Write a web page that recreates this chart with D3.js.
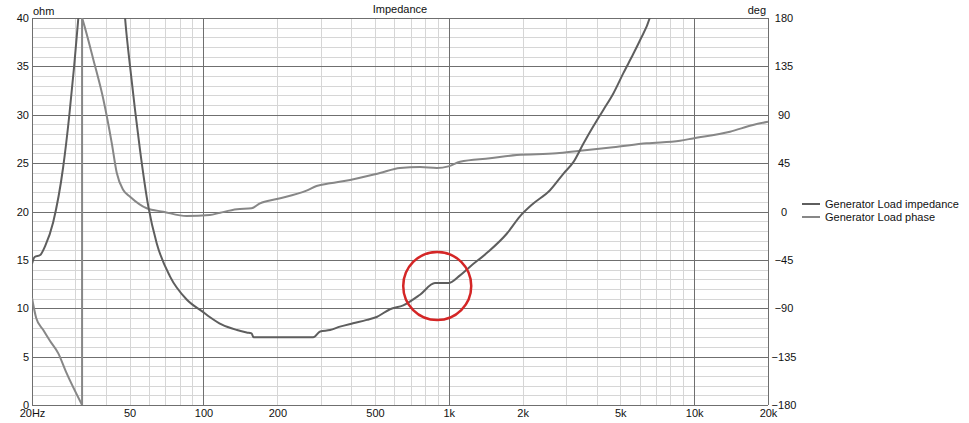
<!DOCTYPE html>
<html>
<head>
<meta charset="utf-8">
<script src="https://cdn.jsdelivr.net/npm/d3@7/dist/d3.min.js"></script>
<style>
    body { margin: 0; background: #fff; }
    svg { display: block; font-family: "Liberation Sans", Arial, sans-serif; }
</style>
</head>
<body>
<svg id="chart" width="969" height="423"></svg>
<script>
// impedance curve, [Hz, ohm]
var impedanceData = [
    [20, 14.6], [20.5, 15.3], [21.6, 15.5], [22.6, 16.4], [24.4, 18.9], [26.8, 24.6],
    [28.4, 30], [29.7, 35], [30.9, 40], [34.5, 58], [37.9, 70], [43.6, 58],
    [47.9, 40], [50.2, 35], [52.6, 30.5], [55.1, 26.4], [59.6, 20.5], [64.5, 16.7],
    [73, 13.3], [85.4, 10.9], [99.8, 9.6], [106, 9.1], [119, 8.3], [137, 7.75],
    [150, 7.5], [157, 7.4], [160, 7.0], [280, 7.0], [299, 7.6], [328, 7.75],
    [360, 8.1], [407, 8.45], [463, 8.8], [508, 9.1], [576, 9.9], [652, 10.3],
    [763, 11.4], [878, 12.6], [996, 12.6], [1111, 13.4], [1220, 14.3], [1427, 15.7],
    [1722, 17.7], [1950, 19.5], [2204, 20.8], [2585, 22.2], [2929, 23.9], [3218, 25.1],
    [3534, 27.0], [3882, 28.8], [4264, 30.5], [4684, 32.2], [5145, 34.3], [5651, 36.3],
    [6017, 37.7], [6609, 40.1], [7258, 45]
];

// phase curve, [Hz, deg]; the jump at 32 Hz is the -180/+180 wrap
var phaseData = [
    [20, -80.5], [20.8, -99], [22.2, -110], [23.7, -120.5], [25.6, -132], [27.5, -149],
    [32.0, -180], [32.0, 180], [32.2, 178], [35.6, 141], [39.1, 104], [42.3, 63.4],
    [44.3, 36], [47.1, 20], [50.2, 13.8], [58.7, 3], [68.6, -0.2], [85.4, -4.2],
    [106, -3.3], [117, -1.1], [137, 2], [157, 3], [170, 7.6], [199, 11.6],
    [263, 19.4], [289, 23.7], [328, 26.2], [396, 29.3], [524, 35.8], [632, 40.5],
    [763, 41.4], [895, 40.5], [996, 42], [1111, 46.3], [1472, 49.5], [1892, 52.6],
    [2752, 54.1], [3426, 56.6], [4672, 59.7], [6406, 63.4], [8756, 65.9], [9894, 68],
    [14000, 74.2], [17372, 80.5], [20000, 83.5]
];

var freqTicks = [20, 50, 100, 200, 500, 1000, 2000, 5000, 10000, 20000];
var freqLabels = ["20Hz", "50", "100", "200", "500", "1k", "2k", "5k", "10k", "20k"];
var freqMajor = [100, 1000, 10000];
var ohmTicks = [0, 5, 10, 15, 20, 25, 30, 35, 40];
var degTicks = [-180, -135, -90, -45, 0, 45, 90, 135, 180];
var seriesNames = ["Generator Load impedance", "Generator Load phase"];
var seriesColors = ["#5e5e5e", "#878787"];
// red circle marking the flat step
var highlight = [897, 12.3];

var plotLeft = 32, plotRight = 768, plotTop = 18, plotBottom = 405;

var chart = d3.select("#chart");

var x = d3.scaleLog().domain([20, 20000]).range([plotLeft, plotRight]);
var yOhm = d3.scaleLinear().domain([0, 40]).range([plotBottom, plotTop]);
var yDeg = d3.scaleLinear().domain([-180, 180]).range([plotBottom, plotTop]);

// minor grid values
var minorFreq = [];
[10, 100, 1000, 10000].forEach(function(decade) {
    for (var k = 1; k <= 9; k++) {
        var f = decade * k;
        if (f > 20 && f < 20000 && freqMajor.indexOf(f) < 0) minorFreq.push(f);
    }
});
var minorOhm = d3.range(1, 40).filter(function(v) { return v % 5 !== 0; });

var grid = chart.append("g");

grid.selectAll("line.minor-x")
    .data(minorFreq)
    .enter()
    .append("line")
    .attr("class", "minor-x")
    .attr("x1", function(d) { return Math.round(x(d)) + 0.5; })
    .attr("x2", function(d) { return Math.round(x(d)) + 0.5; })
    .attr("y1", plotTop)
    .attr("y2", plotBottom)
    .attr("stroke", "#d6d6d6");

grid.selectAll("line.minor-y")
    .data(minorOhm)
    .enter()
    .append("line")
    .attr("class", "minor-y")
    .attr("x1", plotLeft)
    .attr("x2", plotRight)
    .attr("y1", function(d) { return Math.round(yOhm(d)) + 0.5; })
    .attr("y2", function(d) { return Math.round(yOhm(d)) + 0.5; })
    .attr("stroke", "#d6d6d6");

grid.selectAll("line.major-x")
    .data(freqMajor.concat([20, 20000]))
    .enter()
    .append("line")
    .attr("class", "major-x")
    .attr("x1", function(d) { return Math.round(x(d)) + 0.5; })
    .attr("x2", function(d) { return Math.round(x(d)) + 0.5; })
    .attr("y1", plotTop)
    .attr("y2", plotBottom)
    .attr("stroke", "#6f6f6f");

grid.selectAll("line.major-y")
    .data(ohmTicks)
    .enter()
    .append("line")
    .attr("class", "major-y")
    .attr("x1", plotLeft)
    .attr("x2", plotRight)
    .attr("y1", function(d) { return Math.round(yOhm(d)) + 0.5; })
    .attr("y2", function(d) { return Math.round(yOhm(d)) + 0.5; })
    .attr("stroke", "#6f6f6f");

// axes, labels only
function styleAxis(g) {
    g.select(".domain").remove();
    g.selectAll("text").attr("font-size", 11).attr("fill", "#111")
        .attr("font-family", "Liberation Sans, Arial, sans-serif");
}

chart.append("g")
    .attr("transform", "translate(" + plotLeft + ",0)")
    .call(d3.axisLeft(yOhm).tickValues(ohmTicks).tickSize(0).tickPadding(3))
    .call(styleAxis);

chart.append("g")
    .attr("transform", "translate(" + plotRight + ",0)")
    .call(d3.axisRight(yDeg).tickValues(degTicks).tickSize(0).tickPadding(16))
    .call(styleAxis)
    .selectAll("text").attr("text-anchor", "middle");

chart.append("g")
    .attr("transform", "translate(0," + plotBottom + ")")
    .call(d3.axisBottom(x).tickValues(freqTicks).tickSize(0).tickPadding(4)
        .tickFormat(function(d, i) { return freqLabels[i]; }))
    .call(styleAxis);

var titles = [
    {x: (plotLeft + plotRight) / 2, y: 13, anchor: "middle", text: "Impedance"},
    {x: plotLeft + 1, y: 15, anchor: "start", text: "ohm"},
    {x: plotRight - 2, y: 14, anchor: "end", text: "deg"}
];
chart.selectAll("text.title")
    .data(titles)
    .enter()
    .append("text")
    .attr("class", "title")
    .attr("x", function(d) { return d.x; })
    .attr("y", function(d) { return d.y; })
    .attr("text-anchor", function(d) { return d.anchor; })
    .attr("font-size", 11)
    .attr("fill", "#111")
    .text(function(d) { return d.text; });

// curves
chart.append("clipPath")
    .attr("id", "plotClip")
    .append("rect")
    .attr("x", plotLeft)
    .attr("y", plotTop)
    .attr("width", plotRight - plotLeft)
    .attr("height", plotBottom - plotTop);

var impLine = d3.line()
    .curve(d3.curveMonotoneX)
    .x(function(d) { return x(d[0]); })
    .y(function(d) { return yOhm(d[1]); });

// phase drawn in two monotone pieces joined by the wrap segment
var wrapAt = phaseData.findIndex(function(d, i) {
    return i > 0 && d[0] === phaseData[i - 1][0];
});
var phaseLine = d3.line()
    .curve(d3.curveMonotoneX)
    .x(function(d) { return x(d[0]); })
    .y(function(d) { return yDeg(d[1]); });
var wrapLine = d3.line()
    .x(function(d) { return x(d[0]); })
    .y(function(d) { return yDeg(d[1]); });

var curves = chart.append("g").attr("clip-path", "url(#plotClip)");
var phaseParts = [phaseData.slice(0, wrapAt), phaseData.slice(wrapAt)];
curves.selectAll("path.phase")
    .data(phaseParts)
    .enter()
    .append("path")
    .attr("class", "phase")
    .attr("d", phaseLine)
    .attr("fill", "none")
    .attr("stroke", seriesColors[1])
    .attr("stroke-width", 2)
    .attr("stroke-linejoin", "round");
curves.append("path")
    .datum(phaseData.slice(wrapAt - 1, wrapAt + 1))
    .attr("d", wrapLine)
    .attr("fill", "none")
    .attr("stroke", seriesColors[1])
    .attr("stroke-width", 2);
curves.append("path")
    .datum(impedanceData)
    .attr("d", impLine)
    .attr("fill", "none")
    .attr("stroke", seriesColors[0])
    .attr("stroke-width", 2)
    .attr("stroke-linejoin", "round");

// legend
var legend = chart.selectAll("g.legend")
    .data(seriesNames)
    .enter()
    .append("g")
    .attr("class", "legend")
    .attr("transform", function(d, i) { return "translate(802," + (204 + i * 13) + ")"; });
legend.append("line")
    .attr("x1", 0)
    .attr("x2", 18)
    .attr("stroke", function(d, i) { return seriesColors[i]; })
    .attr("stroke-width", 2);
legend.append("text")
    .attr("x", 23)
    .attr("dy", "0.35em")
    .attr("font-size", 11)
    .attr("fill", "#111")
    .text(function(d) { return d; });

// annotation circle
chart.append("circle")
    .attr("cx", x(highlight[0]))
    .attr("cy", yOhm(highlight[1]))
    .attr("r", 34)
    .attr("fill", "none")
    .attr("stroke", "#d42626")
    .attr("stroke-width", 2.5);
</script>
</body>
</html>
